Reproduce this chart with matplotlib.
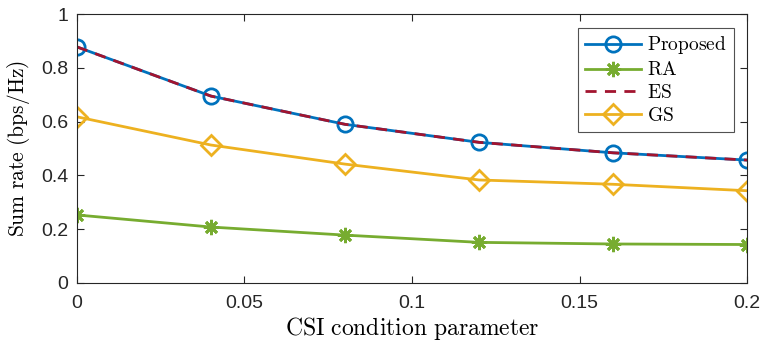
import matplotlib
matplotlib.use('Agg')
import matplotlib.pyplot as plt

plt.rcParams['mathtext.fontset'] = 'cm'
plt.rcParams['font.family'] = 'Liberation Sans'

x = [0, 0.04, 0.08, 0.12, 0.16, 0.2]
proposed = [0.878, 0.695, 0.590, 0.523, 0.484, 0.457]
ra = [0.253, 0.208, 0.178, 0.151, 0.145, 0.143]
es = [0.878, 0.695, 0.590, 0.523, 0.484, 0.457]
gs = [0.618, 0.513, 0.442, 0.383, 0.367, 0.343]

fig = plt.figure(figsize=(7.61, 3.43), dpi=100)
ax = fig.add_axes([0.101, 0.175, 0.881, 0.784])

ax.plot(x, proposed, color='#0072BD', lw=2, marker='o', ms=11, mew=2,
        mfc='none', label=r'$\mathrm{Proposed}$')
ax.plot(x, ra, color='#77AC30', lw=2, marker=(8, 2, 0), ms=11, mew=2,
        label=r'$\mathrm{RA}$')
ax.plot(x, es, color='#A2142F', lw=2, ls=(0, (4, 3)), label=r'$\mathrm{ES}$')
ax.plot(x, gs, color='#EDB120', lw=2, marker='D', ms=10, mew=2,
        mfc='none', label=r'$\mathrm{GS}$')

ax.set_xlim(0, 0.2)
ax.set_ylim(0, 1)
ax.set_xticks([0, 0.05, 0.1, 0.15, 0.2])
ax.set_xticklabels(['0', '0.05', '0.1', '0.15', '0.2'])
ax.set_yticks([0, 0.2, 0.4, 0.6, 0.8, 1])
ax.set_yticklabels(['0', '0.2', '0.4', '0.6', '0.8', '1'])
ax.tick_params(direction='in', length=5, width=0.8, labelsize=14,
               colors='#262626', top=True, right=True, pad=6)
ax.tick_params(axis='x', pad=9)
for s in ax.spines.values():
    s.set_color('#262626')
    s.set_linewidth(0.8)

ax.set_xlabel(r'$\mathrm{CSI\ condition\ parameter}$', fontsize=17, labelpad=2)
ax.set_ylabel(r'$\mathrm{Sum\ rate\ (bps/Hz)}$', fontsize=15.5, labelpad=7)

leg = ax.legend(loc='upper right', fontsize=14, frameon=True, fancybox=False,
                edgecolor='#262626', handlelength=2.9, borderpad=0.35,
                labelspacing=0.25, handletextpad=0.3, borderaxespad=0.7)
leg.get_frame().set_linewidth(0.8)

fig.savefig('out.png', dpi=100)
